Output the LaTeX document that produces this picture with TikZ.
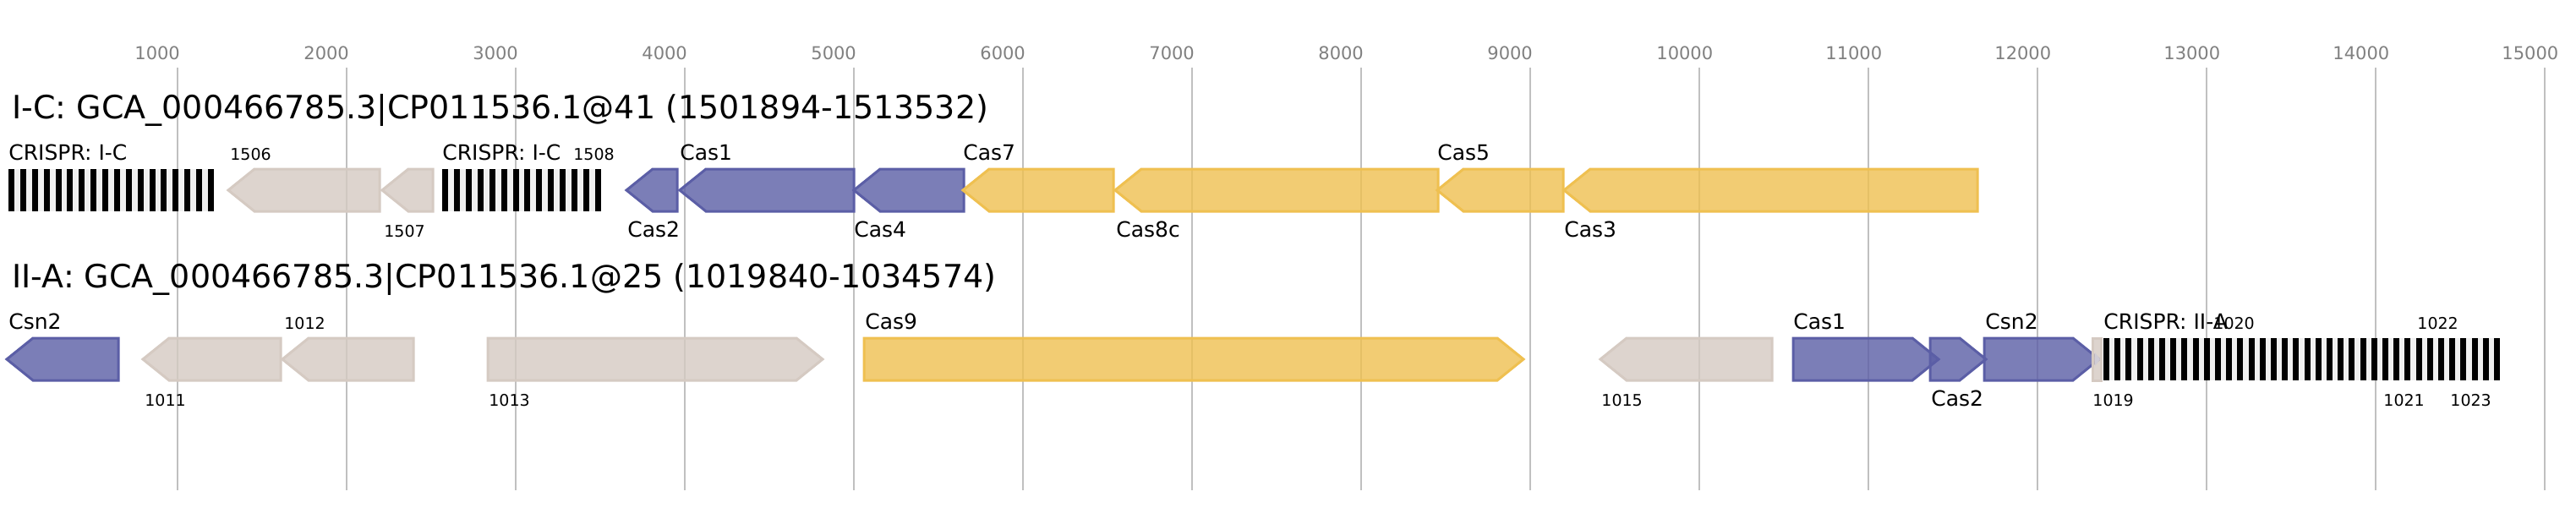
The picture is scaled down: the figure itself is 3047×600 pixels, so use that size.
\documentclass[tikz,border=0pt]{standalone}
\usepackage{fontspec}
\setmainfont{DejaVu Sans}
\definecolor{purpleC}{HTML}{5B5EA6}
\definecolor{yellowC}{HTML}{EFC050}
\definecolor{grayC}{HTML}{D5CAC2}
\definecolor{gridC}{HTML}{C0C0C0}
\definecolor{tickC}{HTML}{808080}
\definecolor{gapC}{HTML}{F0F0F0}
\tikzset{
  purplegene/.style={draw=purpleC,fill=purpleC,fill opacity=0.8,line width=1.5pt,line join=miter},
  yellowgene/.style={draw=yellowC,fill=yellowC,fill opacity=0.8,line width=1.5pt,line join=miter},
  graygene/.style={draw=grayC,fill=grayC,fill opacity=0.8,line width=1.5pt,line join=miter},
  gridline/.style={draw=gridC,line width=1pt},
  ticklabel/.style={anchor=base west,inner sep=0pt,text=tickC,font=\fontsize{10.5}{12}\selectfont},
  titlelabel/.style={anchor=base west,inner sep=0pt,font=\fontsize{19}{23}\selectfont},
  genelabel/.style={anchor=base west,inner sep=0pt,font=\fontsize{12.5}{15}\selectfont},
  smalllabel/.style={anchor=base west,inner sep=0pt,font=\fontsize{9.5}{11}\selectfont},
}
% left-pointing gene: tip x1, end x2, centre y, style
\newcommand{\geneL}[4]{%
  \pgfmathsetmacro{\hh}{min(31,#2-#1)}%
  \path[#4] (#1,#3) -- (#1+\hh,#3-25) -- (#2,#3-25) -- (#2,#3+25) -- (#1+\hh,#3+25) -- cycle;}
% right-pointing gene: start x1, tip x2, centre y, style
\newcommand{\geneR}[4]{%
  \pgfmathsetmacro{\hh}{min(31,#2-#1)}%
  \path[#4] (#1,#3-25) -- (#2-\hh,#3-25) -- (#2,#3) -- (#2-\hh,#3+25) -- (#1,#3+25) -- cycle;}
% CRISPR array: x1, x2, centre y, number of bars
\newcommand{\crisprarr}[4]{%
  \fill[gapC] (#1,#3-25) rectangle (#2,#3+25);
  \pgfmathsetmacro{\per}{(#2-#1-7)/(#4-1)}%
  \pgfmathtruncatemacro{\nlast}{#4-1}%
  \foreach \i in {0,...,\nlast}{\fill[black] (#1+\i*\per,#3-25) rectangle ++(7,50);}}
\begin{document}
\begin{tikzpicture}[x=0.5pt,y=-0.5pt]
\useasboundingbox (0,0) rectangle (3047,600);
\fill[white] (0,0) rectangle (3047,600);
% grid and ticks
\foreach \k in {1,...,15}{
  \pgfmathsetmacro{\gx}{10+200*\k}
  \draw[gridline] (\gx,80) -- (\gx,580);
  \node[ticklabel] (tick\k) at (\gx-51,70) {\k000};
}
% ---------- row 1 ----------
\node[titlelabel] (title1) at (14,140) {I-C: GCA\_000466785.3|CP011536.1@41 (1501894-1513532)};
\crisprarr{10}{253}{225}{18}
\node[genelabel] (lcr1) at (10,189) {CRISPR: I-C};
\geneL{270}{449}{225}{graygene}
\node[smalllabel] (l1506) at (272,189) {1506};
\geneL{452}{512}{225}{graygene}
\node[smalllabel] (l1507) at (454,280) {1507};
\crisprarr{523}{711}{225}{14}
\node[genelabel] (lcr2) at (523,189) {CRISPR: I-C};
\node[smalllabel] (l1508) at (678,189) {1508};
\geneL{741}{801}{225}{purplegene}
\node[genelabel] (lcas2a) at (742,280) {Cas2};
\geneL{804}{1010}{225}{purplegene}
\node[genelabel] (lcas1a) at (804,189) {Cas1};
\geneL{1010}{1140}{225}{purplegene}
\node[genelabel] (lcas4) at (1010,280) {Cas4};
\geneL{1139}{1317}{225}{yellowgene}
\node[genelabel] (lcas7) at (1139,189) {Cas7};
\geneL{1319}{1701}{225}{yellowgene}
\node[genelabel] (lcas8c) at (1320,280) {Cas8c};
\geneL{1700}{1849}{225}{yellowgene}
\node[genelabel] (lcas5) at (1700,189) {Cas5};
\geneL{1850}{2339}{225}{yellowgene}
\node[genelabel] (lcas3) at (1850,280) {Cas3};
% ---------- row 2 ----------
\node[titlelabel] (title2) at (14,340) {II-A: GCA\_000466785.3|CP011536.1@25 (1019840-1034574)};
\geneL{8}{140}{425}{purplegene}
\node[genelabel] (lcsn2a) at (10,389) {Csn2};
\geneL{169}{332}{425}{graygene}
\node[smalllabel] (l1011) at (171,480) {1011};
\geneL{334}{489}{425}{graygene}
\node[smalllabel] (l1012) at (336,389) {1012};
\geneR{577}{973}{425}{graygene}
\node[smalllabel] (l1013) at (578,480) {1013};
\geneR{1022}{1802}{425}{yellowgene}
\node[genelabel] (lcas9) at (1023,389) {Cas9};
\geneL{1893}{2096}{425}{graygene}
\node[smalllabel] (l1015) at (1894,480) {1015};
\geneR{2121}{2293}{425}{purplegene}
\node[genelabel] (lcas1b) at (2121,389) {Cas1};
\geneR{2283}{2349}{425}{purplegene}
\node[genelabel] (lcas2b) at (2284,480) {Cas2};
\geneR{2347}{2483}{425}{purplegene}
\node[genelabel] (lcsn2b) at (2348,389) {Csn2};
\path[graygene] (2475,400) rectangle (2485,450);
\fill[grayC!70!purpleC!60!white] (2478,417) -- (2484,425) -- (2478,433) -- cycle;
\node[smalllabel] (l1019) at (2475,480) {1019};
\crisprarr{2488}{2957}{425}{36}
\node[genelabel] (lcr3) at (2488,389) {CRISPR: II-A};
\node[smalllabel] (l1020) at (2618,389) {1020};
\node[smalllabel] (l1021) at (2819,480) {1021};
\node[smalllabel] (l1022) at (2859,389) {1022};
\node[smalllabel] (l1023) at (2898,480) {1023};
\end{tikzpicture}
\end{document}
